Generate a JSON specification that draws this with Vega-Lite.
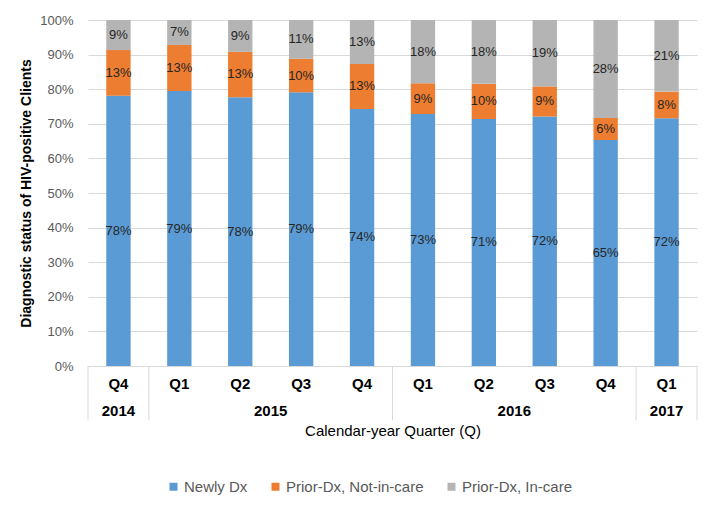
{
  "$schema": "https://vega.github.io/schema/vega-lite/v6.json",
  "width": 609,
  "height": 346,
  "autosize": {"type": "none"},
  "padding": {"left": 88, "top": 20, "right": 21, "bottom": 145},
  "background": "white",
  "config": {
    "font": "Liberation Sans",
    "view": {"stroke": null}
  },
  "datasets": {
    "bars": [
      {"q": "2014 Q4", "status": "Newly Dx", "k": 1, "v": 0.781},
      {"q": "2014 Q4", "status": "Prior-Dx, Not-in-care", "k": 2, "v": 0.132},
      {"q": "2014 Q4", "status": "Prior-Dx, In-care", "k": 3, "v": 0.087},
      {"q": "2015 Q1", "status": "Newly Dx", "k": 1, "v": 0.794},
      {"q": "2015 Q1", "status": "Prior-Dx, Not-in-care", "k": 2, "v": 0.133},
      {"q": "2015 Q1", "status": "Prior-Dx, In-care", "k": 3, "v": 0.072},
      {"q": "2015 Q2", "status": "Newly Dx", "k": 1, "v": 0.777},
      {"q": "2015 Q2", "status": "Prior-Dx, Not-in-care", "k": 2, "v": 0.131},
      {"q": "2015 Q2", "status": "Prior-Dx, In-care", "k": 3, "v": 0.092},
      {"q": "2015 Q3", "status": "Newly Dx", "k": 1, "v": 0.791},
      {"q": "2015 Q3", "status": "Prior-Dx, Not-in-care", "k": 2, "v": 0.097},
      {"q": "2015 Q3", "status": "Prior-Dx, In-care", "k": 3, "v": 0.112},
      {"q": "2015 Q4", "status": "Newly Dx", "k": 1, "v": 0.743},
      {"q": "2015 Q4", "status": "Prior-Dx, Not-in-care", "k": 2, "v": 0.13},
      {"q": "2015 Q4", "status": "Prior-Dx, In-care", "k": 3, "v": 0.127},
      {"q": "2016 Q1", "status": "Newly Dx", "k": 1, "v": 0.728},
      {"q": "2016 Q1", "status": "Prior-Dx, Not-in-care", "k": 2, "v": 0.089},
      {"q": "2016 Q1", "status": "Prior-Dx, In-care", "k": 3, "v": 0.183},
      {"q": "2016 Q2", "status": "Newly Dx", "k": 1, "v": 0.714},
      {"q": "2016 Q2", "status": "Prior-Dx, Not-in-care", "k": 2, "v": 0.102},
      {"q": "2016 Q2", "status": "Prior-Dx, In-care", "k": 3, "v": 0.184},
      {"q": "2016 Q3", "status": "Newly Dx", "k": 1, "v": 0.721},
      {"q": "2016 Q3", "status": "Prior-Dx, Not-in-care", "k": 2, "v": 0.087},
      {"q": "2016 Q3", "status": "Prior-Dx, In-care", "k": 3, "v": 0.192},
      {"q": "2016 Q4", "status": "Newly Dx", "k": 1, "v": 0.653},
      {"q": "2016 Q4", "status": "Prior-Dx, Not-in-care", "k": 2, "v": 0.064},
      {"q": "2016 Q4", "status": "Prior-Dx, In-care", "k": 3, "v": 0.283},
      {"q": "2017 Q1", "status": "Newly Dx", "k": 1, "v": 0.716},
      {"q": "2017 Q1", "status": "Prior-Dx, Not-in-care", "k": 2, "v": 0.077},
      {"q": "2017 Q1", "status": "Prior-Dx, In-care", "k": 3, "v": 0.207}
    ],
    "bounds": [
      {"at": "2014 Q4"},
      {"at": "2015 Q1"},
      {"at": "2016 Q1"},
      {"at": "2017 Q1"}
    ],
    "endBound": [
      {"at": "2017 Q1"}
    ],
    "yearsSingle": [
      {"year": "2014", "at": "2014 Q4"},
      {"year": "2017", "at": "2017 Q1"}
    ],
    "yearsMulti": [
      {"year": "2015", "at": "2015 Q3"},
      {"year": "2016", "at": "2016 Q3"}
    ]
  },
  "layer": [
    {
      "data": {"name": "bars"},
      "mark": {"type": "bar", "width": {"band": 0.4}},
      "encoding": {
        "x": {
          "field": "q",
          "type": "nominal",
          "scale": {"paddingInner": 0, "paddingOuter": 0},
          "axis": {
            "title": "Calendar-year Quarter (Q)",
            "labelExpr": "split(datum.label, ' ')[1]",
            "labelAngle": 0,
            "labelFontWeight": "bold",
            "labelFontSize": 15,
            "labelColor": "#000000",
            "labelPadding": 10,
            "ticks": false,
            "domainColor": "#d9d9d9",
            "titleFontSize": 15,
            "titleFontWeight": "normal",
            "titleColor": "#000000",
            "titlePadding": 32
          }
        },
        "y": {
          "field": "v",
          "type": "quantitative",
          "stack": "normalize",
          "scale": {"domain": [0, 1], "nice": false},
          "axis": {
            "title": "Diagnostic status of HIV-positive Clients",
            "format": ".0%",
            "values": [0, 0.1, 0.2, 0.3, 0.4, 0.5, 0.6, 0.7, 0.8, 0.9, 1],
            "tickCount": 12,
            "labelOverlap": false,
            "domain": false,
            "ticks": false,
            "gridColor": "#d9d9d9",
            "labelFontSize": 13,
            "labelColor": "#595959",
            "labelPadding": 15,
            "titleFontSize": 14,
            "titleFontWeight": "bold",
            "titleColor": "#000000",
            "titlePadding": 6
          }
        },
        "order": {"field": "k", "type": "quantitative", "sort": "ascending"},
        "color": {
          "field": "status",
          "type": "nominal",
          "scale": {
            "domain": ["Newly Dx", "Prior-Dx, Not-in-care", "Prior-Dx, In-care"],
            "range": ["#5B9BD5", "#ED7D31", "#B4B4B4"]
          },
          "legend": {
            "title": null,
            "orient": "none",
            "direction": "horizontal",
            "legendX": 78,
            "legendY": 459,
            "symbolType": "square",
            "symbolSize": 64,
            "symbolStrokeWidth": 0,
            "labelFontSize": 15,
            "labelColor": "#595959",
            "labelOffset": 3,
            "columnPadding": 20
          }
        }
      }
    },
    {
      "data": {"name": "bars"},
      "mark": {"type": "text", "fontSize": 13, "color": "#262626", "baseline": "middle"},
      "encoding": {
        "x": {"field": "q", "type": "nominal"},
        "y": {"field": "v", "type": "quantitative", "stack": "normalize", "bandPosition": 0.5},
        "detail": {"field": "status", "type": "nominal"},
        "order": {"field": "k", "type": "quantitative", "sort": "ascending"},
        "text": {"field": "v", "type": "quantitative", "format": ".0%"}
      }
    },
    {
      "data": {"name": "bounds"},
      "mark": {"type": "rule", "color": "#d9d9d9", "strokeWidth": 1},
      "encoding": {
        "x": {"field": "at", "type": "nominal", "bandPosition": 0},
        "y": {"datum": 0, "type": "quantitative"},
        "y2": {"datum": -0.157}
      }
    },
    {
      "data": {"name": "endBound"},
      "mark": {"type": "rule", "color": "#d9d9d9", "strokeWidth": 1},
      "encoding": {
        "x": {"field": "at", "type": "nominal", "bandPosition": 1},
        "y": {"datum": 0, "type": "quantitative"},
        "y2": {"datum": -0.157}
      }
    },
    {
      "data": {"name": "yearsSingle"},
      "mark": {"type": "text", "fontSize": 15, "fontWeight": "bold", "color": "#000000", "baseline": "middle"},
      "encoding": {
        "x": {"field": "at", "type": "nominal", "bandPosition": 0.5},
        "y": {"datum": -0.13, "type": "quantitative"},
        "text": {"field": "year", "type": "nominal"}
      }
    },
    {
      "data": {"name": "yearsMulti"},
      "mark": {"type": "text", "fontSize": 15, "fontWeight": "bold", "color": "#000000", "baseline": "middle"},
      "encoding": {
        "x": {"field": "at", "type": "nominal", "bandPosition": 0},
        "y": {"datum": -0.13, "type": "quantitative"},
        "text": {"field": "year", "type": "nominal"}
      }
    }
  ]
}
